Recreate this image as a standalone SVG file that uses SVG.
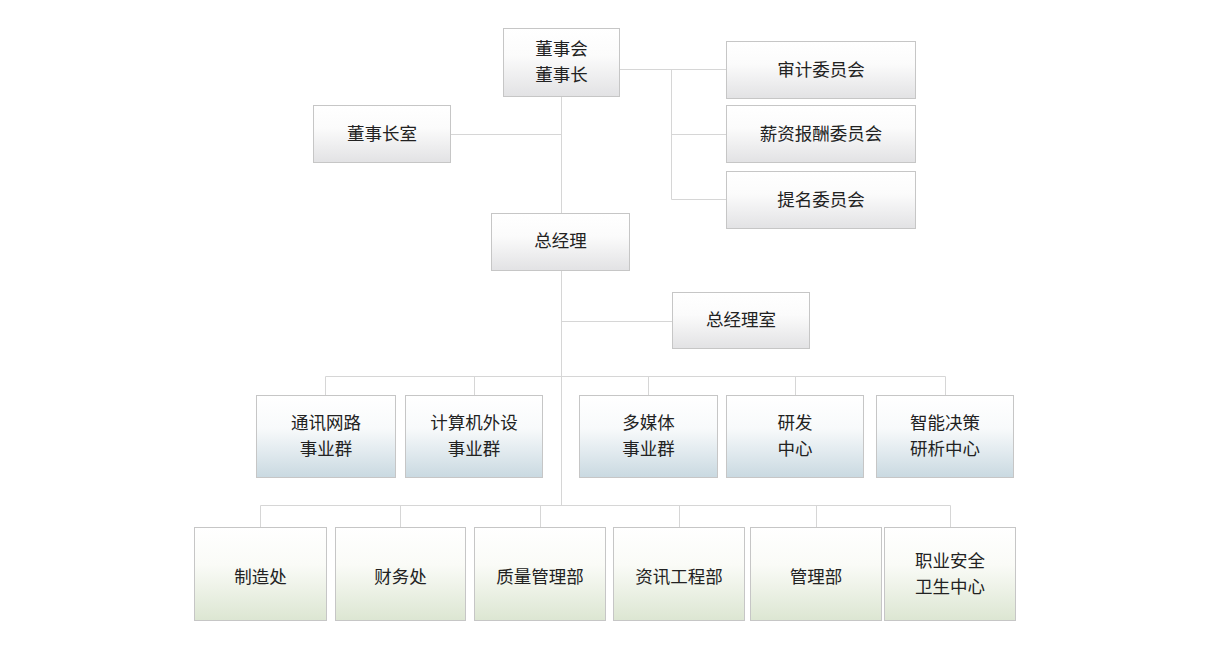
<svg xmlns="http://www.w3.org/2000/svg" width="1211" height="648" viewBox="0 0 1211 648">
<defs>
<linearGradient id="gGray" x1="0" y1="0" x2="0" y2="1">
<stop offset="0" stop-color="#ffffff"/><stop offset="0.4" stop-color="#fbfbfb"/><stop offset="1" stop-color="#e2e2e4"/>
</linearGradient>
<linearGradient id="gBlue" x1="0" y1="0" x2="0" y2="1">
<stop offset="0" stop-color="#ffffff"/><stop offset="0.4" stop-color="#f8fafb"/><stop offset="1" stop-color="#c9d9e1"/>
</linearGradient>
<linearGradient id="gGreen" x1="0" y1="0" x2="0" y2="1">
<stop offset="0" stop-color="#ffffff"/><stop offset="0.4" stop-color="#fafbf7"/><stop offset="1" stop-color="#dce6d2"/>
</linearGradient>
</defs>
<style>
.b{stroke:#c6c6c6;stroke-width:1}
.gray{fill:url(#gGray)}
.blue{fill:url(#gBlue)}
.green{fill:url(#gGreen)}
text{font-family:"Noto Sans CJK SC","Microsoft YaHei",sans-serif;font-size:17.5px;fill:#222222;text-anchor:middle;dominant-baseline:central}
#connectors path{fill:none;stroke:#d6d6d6;stroke-width:1}
</style>
<rect width="1211" height="648" fill="#ffffff"/>
<g id="connectors">
<path d="M561.5 96V213M561.5 270V505.5"/>
<path d="M450.5 134.5H561.5"/>
<path d="M619.5 69.5H726"/>
<path d="M671.5 69.5V199.5M671.5 134.5H726M671.5 199.5H726"/>
<path d="M561.5 321.5H672"/>
<path d="M325.5 395V376.5H945.5V395M474.5 376.5V395M648.5 376.5V395M795.5 376.5V395"/>
<path d="M260.5 527V505.5H950.5V527M400.5 505.5V527M540.5 505.5V527M679.5 505.5V527M816.5 505.5V527"/>
</g>
<g id="n-board"><rect class="b gray" x="503.5" y="28.5" width="116" height="68"/><text x="561.5" y="47">董事会</text><text x="561.5" y="73">董事长</text></g>
<g id="n-chairoffice"><rect class="b gray" x="313.5" y="105.5" width="137" height="57"/><text x="382" y="132">董事长室</text></g>
<g id="n-audit"><rect class="b gray" x="726.5" y="41.5" width="189" height="57"/><text x="821" y="68">审计委员会</text></g>
<g id="n-pay"><rect class="b gray" x="726.5" y="105.5" width="189" height="57"/><text x="821" y="132">薪资报酬委员会</text></g>
<g id="n-nom"><rect class="b gray" x="726.5" y="171.5" width="189" height="57"/><text x="821" y="198">提名委员会</text></g>
<g id="n-gm"><rect class="b gray" x="491.5" y="213.5" width="138" height="57"/><text x="560.5" y="239.5">总经理</text></g>
<g id="n-gmoffice"><rect class="b gray" x="672.5" y="292.5" width="137" height="56"/><text x="741" y="318.5">总经理室</text></g>
<g id="n-comm"><rect class="b blue" x="256.5" y="395.5" width="139" height="82"/><text x="326" y="421">通讯网路</text><text x="326" y="447.5">事业群</text></g>
<g id="n-comp"><rect class="b blue" x="405.5" y="395.5" width="137" height="82"/><text x="474" y="421">计算机外设</text><text x="474" y="447.5">事业群</text></g>
<g id="n-media"><rect class="b blue" x="579.5" y="395.5" width="138" height="82"/><text x="648.5" y="421">多媒体</text><text x="648.5" y="447.5">事业群</text></g>
<g id="n-rd"><rect class="b blue" x="726.5" y="395.5" width="137" height="82"/><text x="795" y="421">研发</text><text x="795" y="447.5">中心</text></g>
<g id="n-ai"><rect class="b blue" x="876.5" y="395.5" width="137" height="82"/><text x="945" y="421">智能决策</text><text x="945" y="447.5">研析中心</text></g>
<g id="n-mfg"><rect class="b green" x="194.5" y="527.5" width="132" height="93"/><text x="260.5" y="575">制造处</text></g>
<g id="n-fin"><rect class="b green" x="335.5" y="527.5" width="130" height="93"/><text x="400.5" y="575">财务处</text></g>
<g id="n-qa"><rect class="b green" x="474.5" y="527.5" width="131" height="93"/><text x="540" y="575">质量管理部</text></g>
<g id="n-it"><rect class="b green" x="613.5" y="527.5" width="131" height="93"/><text x="679" y="575">资讯工程部</text></g>
<g id="n-mgmt"><rect class="b green" x="750.5" y="527.5" width="131" height="93"/><text x="816" y="575">管理部</text></g>
<g id="n-safety"><rect class="b green" x="884.5" y="527.5" width="131" height="93"/><text x="950" y="559">职业安全</text><text x="950" y="585">卫生中心</text></g>
</svg>
